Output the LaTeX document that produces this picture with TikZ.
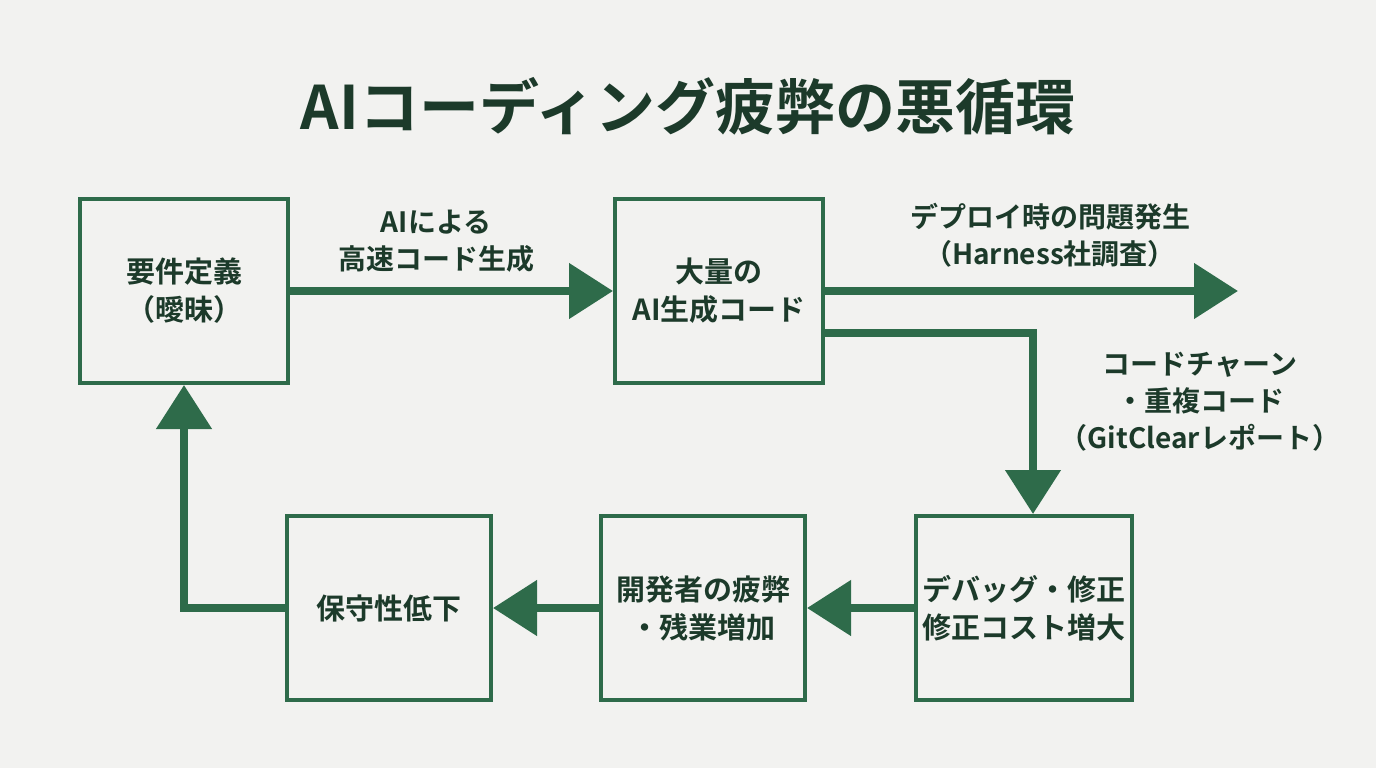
\documentclass[tikz,border=0pt]{standalone}
\usepackage{fontspec}
\setmainfont{Noto Sans CJK JP}[BoldFont={* Bold}]
\usetikzlibrary{arrows.meta}
\definecolor{gr}{HTML}{2E6B4A}
\definecolor{tx}{HTML}{1C3A2A}
\definecolor{bg}{HTML}{F2F2F0}
\begin{document}
\begin{tikzpicture}[x=1pt,y=-1pt,
 box/.style={draw=gr,line width=4pt,fill=bg,minimum width=#1,minimum height=184pt,align=center,font=\fontsize{29}{38}\selectfont\bfseries,text=tx,inner sep=0pt},
 box/.default=208pt,
 arr/.style={draw=gr,line width=8pt,-{Triangle[length=44pt,width=54pt]}},
 lab/.style={align=center,font=\fontsize{28}{37}\selectfont\bfseries,text=tx}]
\fill[bg] (0,0) rectangle (1376,768);
\useasboundingbox (0,0) rectangle (1376,768);
\node[font=\fontsize{60}{70}\selectfont\bfseries,text=tx] (title) at (688,106) {AIコーディング疲弊の悪循環};
\node[box] (b1) at (184,291) {要件定義\\（曖昧）};
\node[box] (b2) at (719,291) {大量の\\AI生成コード};
\node[box=216pt] (b3) at (1024,608) {デバッグ・修正\\修正コスト増大};
\node[box=204pt] (b4) at (703,608) {開発者の疲弊\\・残業増加};
\node[box=204pt] (b5) at (389,608) {保守性低下};
\coordinate (e2) at (1238,291);
\draw[arr] (b1.east) -- (b2.west);
\draw[arr] (b2.east) -- (e2);
\draw[arr] ([yshift=-42pt]b2.east) -| ([xshift=9pt]b3.north);
\draw[arr] (b3.west) -- (b4.east);
\draw[arr] (b4.west) -- (b5.east);
\draw[arr] (b5.west) -| (b1.south);
\node[lab] (l1) at (436,241) {AIによる\\高速コード生成};
\node[lab] (l2) at (1050,235) {デプロイ時の問題発生\\（Harness社調査）};
\node[lab] (l3) at (1200,402) {コードチャーン\\・重複コード\\（GitClearレポート）};
\end{tikzpicture}
\end{document}
